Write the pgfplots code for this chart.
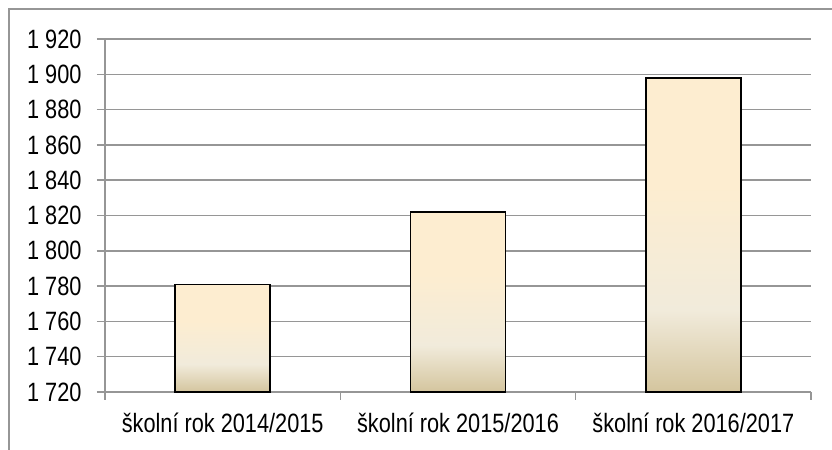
\documentclass[border=0pt]{standalone}
\usepackage{fontspec}
\setmainfont[FakeStretch=0.82]{Liberation Sans}
\usepackage{pgfplots}
\pgfplotsset{compat=1.18}
\definecolor{gridgray}{RGB}{150,150,150}
\definecolor{barTop}{RGB}{253,237,208}
\definecolor{barMid}{RGB}{241,235,219}
\definecolor{barBot}{RGB}{212,197,158}
% path maps to 25bp..75bp of the shading
\pgfdeclareverticalshading{parchment}{100bp}{color(0bp)=(barBot); color(25bp)=(barBot); color(38bp)=(barMid); color(58bp)=(barTop); color(75bp)=(barTop); color(100bp)=(barTop)}

\begin{document}
\begin{tikzpicture}[x=1bp,y=1bp]
\useasboundingbox (0,0) rectangle (832,450);
\draw[gridgray, line width=1.5bp] (9,-10) -- (9,441) -- (850,441);
\begin{axis}[
  at={(105bp,58bp)}, anchor=south west,
  scale only axis, width=706bp, height=353bp,
  xmin=-0.5, xmax=2.5,
  ymin=1720, ymax=1920,
  ytick={1720,1740,...,1920},
  xtick={0,1,2},
  xticklabels={školní rok 2014/2015, školní rok 2015/2016, školní rok 2016/2017},
  minor xtick={-0.5,0.5,1.5,2.5},
  axis lines*=left,
  axis line style={gridgray, line width=1.5bp, -},
  ymajorgrids,
  grid style={gridgray, line width=1.5bp},
  tick align=outside,
  major tick length=8bp,
  minor tick length=8bp,
  tick style={gridgray, line width=1.5bp},
  major x tick style={draw=none},
  /pgf/number format/assume math mode=true,
  /pgf/number format/1000 sep={\ },
  tick label style={font=\fontsize{26.5bp}{31bp}\selectfont, text=black},
  yticklabel style={xshift=-12bp},
  xticklabel style={yshift=-9bp},
  clip=false,
]
\addplot[draw=black, line width=1.5bp, shading=parchment] coordinates {(-0.202,1720) (-0.202,1781) (0.202,1781) (0.202,1720)} -- cycle;
\addplot[draw=black, line width=1.5bp, shading=parchment] coordinates {(0.798,1720) (0.798,1822) (1.202,1822) (1.202,1720)} -- cycle;
\addplot[draw=black, line width=1.5bp, shading=parchment] coordinates {(1.798,1720) (1.798,1898) (2.202,1898) (2.202,1720)} -- cycle;
\end{axis}
\end{tikzpicture}
\end{document}
